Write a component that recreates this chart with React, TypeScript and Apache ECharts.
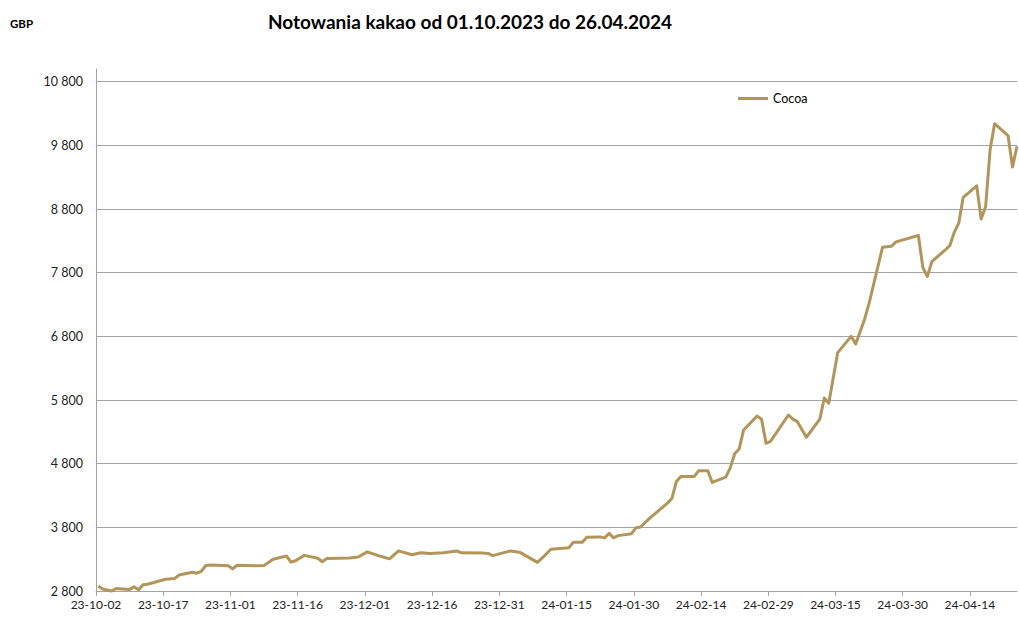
import React, { useEffect, useRef } from "react";
import * as echarts from "echarts";

const title = "Notowania kakao od 01.10.2023 do 26.04.2024";
const unitLabel = "GBP";
const seriesName = "Cocoa";

const dates = [
  "2023-10-02", "2023-10-03", "2023-10-05", "2023-10-06", "2023-10-09", "2023-10-10", "2023-10-11", "2023-10-12", "2023-10-13",
  "2023-10-17", "2023-10-19", "2023-10-20", "2023-10-23", "2023-10-24", "2023-10-25", "2023-10-26", "2023-10-27", "2023-10-31",
  "2023-11-01", "2023-11-02", "2023-11-06", "2023-11-08", "2023-11-10", "2023-11-13", "2023-11-14", "2023-11-15", "2023-11-17",
  "2023-11-20", "2023-11-21", "2023-11-22", "2023-11-27", "2023-11-29", "2023-12-01", "2023-12-04", "2023-12-06", "2023-12-08",
  "2023-12-11", "2023-12-13", "2023-12-15", "2023-12-18", "2023-12-21", "2023-12-22", "2023-12-27", "2023-12-28", "2023-12-29",
  "2024-01-02", "2024-01-04", "2024-01-08", "2024-01-09", "2024-01-11", "2024-01-15", "2024-01-16", "2024-01-18", "2024-01-19",
  "2024-01-22", "2024-01-23", "2024-01-24", "2024-01-25", "2024-01-26", "2024-01-29", "2024-01-30", "2024-01-31", "2024-02-02",
  "2024-02-06", "2024-02-07", "2024-02-08", "2024-02-09", "2024-02-12", "2024-02-13", "2024-02-15", "2024-02-16", "2024-02-19",
  "2024-02-20", "2024-02-21", "2024-02-22", "2024-02-23", "2024-02-26", "2024-02-27", "2024-02-28", "2024-02-29", "2024-03-04",
  "2024-03-05", "2024-03-06", "2024-03-08", "2024-03-11", "2024-03-12", "2024-03-13", "2024-03-15", "2024-03-18", "2024-03-19",
  "2024-03-21", "2024-03-22", "2024-03-25", "2024-03-27", "2024-03-28", "2024-04-02", "2024-04-03", "2024-04-04", "2024-04-05",
  "2024-04-08", "2024-04-09", "2024-04-10", "2024-04-11", "2024-04-12", "2024-04-15", "2024-04-16", "2024-04-17", "2024-04-18",
  "2024-04-19", "2024-04-22", "2024-04-23", "2024-04-24",
];

const cocoa = [
  2880, 2830, 2800, 2840, 2825, 2865, 2820, 2900, 2905,
  2985, 2995, 3050, 3095, 3080, 3110, 3200, 3210, 3195,
  3150, 3205, 3195, 3200, 3300, 3350, 3255, 3275, 3360,
  3315, 3260, 3310, 3320, 3335, 3415, 3345, 3305, 3430,
  3370, 3400, 3390, 3400, 3430, 3400, 3395, 3390, 3355,
  3430, 3410, 3250, 3315, 3455, 3480, 3565, 3565, 3645,
  3650, 3635, 3705, 3635, 3670, 3700, 3795, 3805, 3940,
  4180, 4255, 4520, 4600, 4600, 4690, 4690, 4505, 4590,
  4730, 4955, 5030, 5330, 5550, 5500, 5120, 5150, 5565,
  5500, 5460, 5215, 5500, 5830, 5750, 6545, 6800, 6680,
  7070, 7320, 8200, 8215, 8285, 8385, 7880, 7740, 7975,
  8160, 8225, 8435, 8580, 8985, 9165, 8645, 8840, 9735,
  10140, 9955, 9460, 9785,
];

const yTicks = [2800, 3800, 4800, 5800, 6800, 7800, 8800, 9800, 10800];
const xTickDays = [0, 15, 30, 45, 60, 75, 90, 105, 120, 135, 150, 165, 180, 195];

const DAY = 86400000;
const START_MS = Date.UTC(2023, 9, 2);

function dayOffset(d: string): number {
  const [y, m, dd] = d.split("-").map(Number);
  return Math.round((Date.UTC(y, m - 1, dd) - START_MS) / DAY);
}

function dayLabel(n: number): string {
  const dt = new Date(START_MS + Math.round(n) * DAY);
  const yy = String(dt.getUTCFullYear()).slice(2);
  const mm = String(dt.getUTCMonth() + 1).padStart(2, "0");
  const dd = String(dt.getUTCDate()).padStart(2, "0");
  return `${yy}-${mm}-${dd}`;
}

function fmtThousands(v: number): string {
  return String(v).replace(/\B(?=(\d{3})+(?!\d))/g, " ");
}

const FONT = "Lato, 'Noto Sans', sans-serif";
const LINE_COLOR = "#B1955B";
const GRID_COLOR = "#a3a3a3";

export default function App() {
  const ref = useRef<HTMLDivElement>(null);

  useEffect(() => {
    if (!ref.current) return;
    const chart = echarts.init(ref.current, undefined, { renderer: "svg" });
    const data = dates.map((d, i) => [dayOffset(d) + 0.5, cocoa[i]]);

    chart.setOption({
      animation: false,
      backgroundColor: "#ffffff",
      textStyle: { fontFamily: FONT },
      title: {
        text: title,
        left: 263,
        top: 7,
        textStyle: { fontFamily: FONT, fontSize: 19, fontWeight: "bold", color: "#000" },
      },
      graphic: [
        {
          type: "text",
          left: 10,
          top: 17,
          style: { text: unitLabel, fontFamily: FONT, fontSize: 11.5, fontWeight: "bold", fill: "#000" },
        },
      ],
      legend: {
        left: 738,
        top: 92,
        padding: 0,
        icon: "rect",
        itemWidth: 30,
        itemHeight: 3,
        textStyle: { fontFamily: FONT, fontSize: 12.5, color: "#000" },
        data: [seriesName],
      },
      grid: { left: 96, right: 2, top: 69, bottom: 32, containLabel: false },
      xAxis: {
        type: "value",
        min: 0,
        max: 205.5,
        axisLine: { show: true, lineStyle: { color: GRID_COLOR, width: 1 } },
        axisTick: { show: true, length: 5, inside: false, lineStyle: { color: GRID_COLOR }, customValues: xTickDays },
        axisLabel: {
          customValues: xTickDays,
          formatter: (v: number) => dayLabel(v),
          fontFamily: FONT,
          fontSize: 12,
          color: "#222",
          margin: 7,
        },
        splitLine: { show: false },
      },
      yAxis: {
        type: "value",
        min: 2800,
        max: 11000,
        axisLine: { show: true, lineStyle: { color: GRID_COLOR, width: 1 } },
        axisTick: { show: false, customValues: yTicks },
        axisLabel: {
          customValues: yTicks,
          formatter: (v: number) => fmtThousands(v),
          fontFamily: FONT,
          fontSize: 12.5,
          color: "#222",
          margin: 13,
        },
        splitLine: { show: true, lineStyle: { color: GRID_COLOR, width: 1 } },
      },
      series: [
        {
          name: seriesName,
          type: "line",
          data,
          showSymbol: false,
          symbol: "none",
          clip: false,
          lineStyle: { color: LINE_COLOR, width: 3, join: "round" },
          itemStyle: { color: LINE_COLOR },
        },
      ],
    });

    return () => chart.dispose();
  }, []);

  return (
    <div
      ref={ref}
      style={{ position: "fixed", left: 0, top: 0, width: 1019, height: 623 }}
    />
  );
}
